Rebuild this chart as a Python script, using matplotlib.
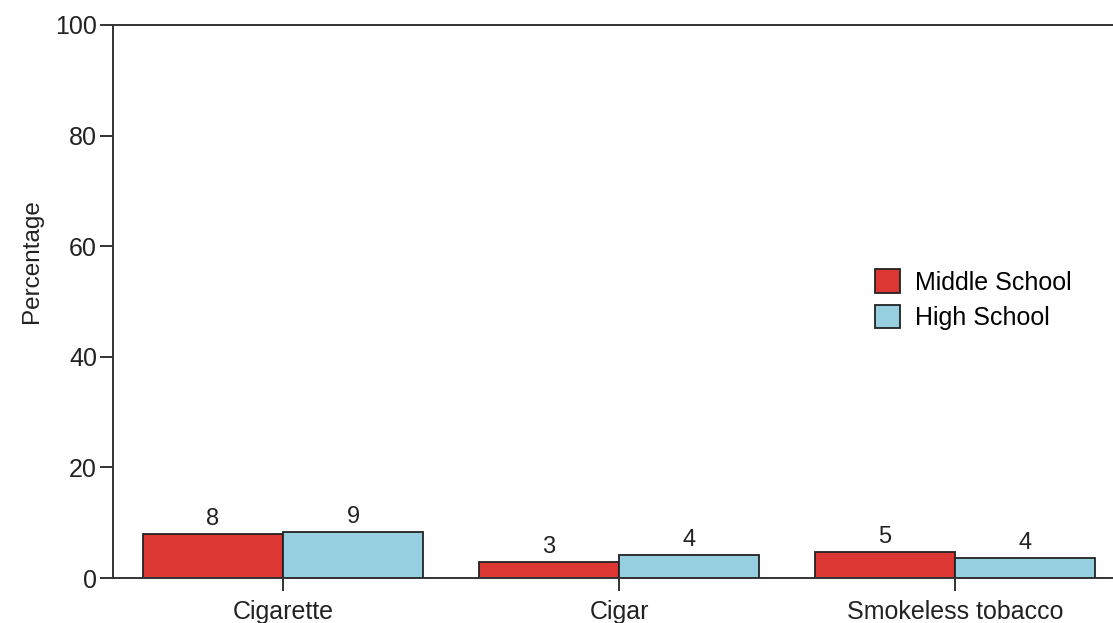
import matplotlib.pyplot as plt
import numpy as np

plt.rcParams['font.family'] = ['Liberation Sans', 'DejaVu Sans']

# Data
categories = ["Cigarette", "Cigar", "Smokeless tobacco"]
middle_school = [8.0, 2.9, 4.7]
high_school = [8.3, 4.1, 3.6]
middle_labels = ["8", "3", "5"]
high_labels = ["9", "4", "4"]

red = "#dc3733"
blue = "#96cfe0"
edge = "#222222"

fig = plt.figure(figsize=(11.13, 6.23), dpi=100)
ax = fig.add_axes([0.1015, 0.0722, 0.8985, 0.8877])

x = np.arange(len(categories))
w = 0.417
b1 = ax.bar(x - w / 2, middle_school, w, color=red, edgecolor=edge, linewidth=1.3, label="Middle School")
b2 = ax.bar(x + w / 2, high_school, w, color=blue, edgecolor=edge, linewidth=1.3, label="High School")

for bars, labs in [(b1, middle_labels), (b2, high_labels)]:
    for bar, lab in zip(bars, labs):
        ax.annotate(lab, (bar.get_x() + bar.get_width() / 2, bar.get_height()),
                    xytext=(0, 3), textcoords="offset points",
                    ha="center", va="bottom", fontsize=17, color="#222222")

ax.set_xlim(-0.506, 2.47)
ax.set_ylim(0, 100)
ax.set_yticks([0, 20, 40, 60, 80, 100])
ax.set_xticks(x)
ax.set_xticklabels(categories)
ax.tick_params(axis="both", labelsize=18, colors="#222222", length=9.5, width=1.3, direction="out")
ax.tick_params(axis="x", pad=6)
ax.tick_params(axis="y", pad=2)
ax.set_ylabel("Percentage", fontsize=17.5, color="#222222")
ax.yaxis.set_label_coords(-0.07, 0.573)

ax.spines["right"].set_visible(False)
for s in ["left", "top", "bottom"]:
    ax.spines[s].set_linewidth(1.4)
    ax.spines[s].set_color("#333333")

ax.legend(loc="upper left", bbox_to_anchor=(0.762, 0.558), frameon=False, fontsize=18,
          borderpad=0, borderaxespad=0,
          handlelength=1.0, handleheight=1.05, handletextpad=0.6, labelspacing=0.42)

fig.savefig("out.png", dpi=100)
